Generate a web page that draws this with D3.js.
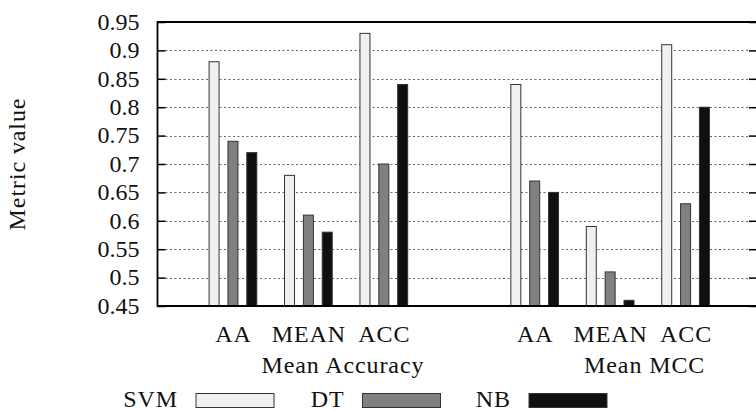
<!DOCTYPE html>
<html>
<head>
<meta charset="utf-8">
<script src="https://cdn.jsdelivr.net/npm/d3@7"></script>
<style>
html,body{margin:0;padding:0;background:#fff;}
text{font-family:"Liberation Serif",serif;fill:#111;}
</style>
</head>
<body>
<svg id="chart" width="756" height="410"></svg>
<script>
// ---- data ----
const categories = ["AA", "MEAN", "ACC"];
const groups = ["Mean Accuracy", "Mean MCC"];
const seriesNames = ["SVM", "DT", "NB"];
const svmValues = [0.88, 0.68, 0.93, 0.84, 0.59, 0.91];
const dtValues  = [0.74, 0.61, 0.70, 0.67, 0.51, 0.63];
const nbValues  = [0.72, 0.58, 0.84, 0.65, 0.46, 0.80];
const yTicks = [0.45, 0.5, 0.55, 0.6, 0.65, 0.7, 0.75, 0.8, 0.85, 0.9, 0.95];
const yTickLabels = ["0.45", "0.5", "0.55", "0.6", "0.65", "0.7", "0.75", "0.8", "0.85", "0.9", "0.95"];
const yLabel = "Metric value";

const seriesValues = [svmValues, dtValues, nbValues];
const seriesColors = ["#f0f0f0", "#808080", "#0f0f0f"];

// ---- layout ----
const svg = d3.select("#chart");
const pLeft = 157.5, pRight = 758, pTop = 22, pBottom = 306;
const fontSize = 24;
const FONT = '"Liberation Serif", serif';
const LS = "0.9px";

const y = d3.scaleLinear().domain([0.45, 0.95]).range([pBottom, pTop]);
// slot index: group*4 + category (one empty slot between groups)
const x = d3.scaleLinear().domain([-1, 6.96]).range([pLeft, pRight]);
const slotW = x(1) - x(0);
const barW = 10;
const offset = s => (seriesNames.indexOf(s) - 1) * 0.25 * slotW;

// gridlines
const gridTicks = yTicks.filter(t => t > 0.45 && t < 0.95);
svg.append("g").selectAll("line").data(gridTicks).join("line")
  .attr("x1", pLeft + 8).attr("x2", 757 - 8)
  .attr("y1", d => Math.round(y(d)) + 0.5).attr("y2", d => Math.round(y(d)) + 0.5)
  .attr("stroke", "#666").attr("stroke-width", 1).attr("stroke-dasharray", "2,2.5");

// bars
const records = [];
groups.forEach((g, gi) => categories.forEach((c, ci) => seriesNames.forEach((s, si) => {
  records.push({slot: gi * 4 + ci, series: s, value: seriesValues[si][gi * 3 + ci], color: seriesColors[si]});
})));
svg.append("g").selectAll("rect").data(records).join("rect")
  .attr("x", d => x(d.slot) + offset(d.series) - barW / 2)
  .attr("width", barW)
  .attr("y", d => y(d.value))
  .attr("height", d => y(0.45) - y(d.value))
  .attr("fill", d => d.color)
  .attr("stroke", "#333").attr("stroke-width", 1);

// y axis (inward ticks)
const yAxis = d3.axisLeft(y).tickValues(yTicks)
  .tickFormat((d, i) => yTickLabels[i]).tickSizeInner(-8).tickSizeOuter(0).tickPadding(18);
const ya = svg.append("g").attr("transform", `translate(${pLeft},0)`).call(yAxis);
ya.attr("font-family", null).attr("font-size", null);
ya.select(".domain").remove();
ya.selectAll(".tick line").attr("stroke", "#000").attr("stroke-width", 1.5);
ya.selectAll(".tick text").attr("dy", "0.3em")
  .style("font-family", FONT).style("font-size", fontSize + "px").attr("fill", "#111");

// right ticks
const yAxisR = d3.axisRight(y).tickValues(yTicks).tickFormat("").tickSizeInner(-8).tickSizeOuter(0);
const yr = svg.append("g").attr("transform", `translate(757,0)`).call(yAxisR);
yr.select(".domain").remove();
yr.selectAll(".tick line").attr("stroke", "#000").attr("stroke-width", 1.5);

// frame
svg.append("path")
  .attr("d", `M${pRight},${pTop}H${pLeft}V${pBottom}H${pRight}`)
  .attr("fill", "none").attr("stroke", "#000").attr("stroke-width", 1.8);

function label(sel) {
  return sel.style("font-family", FONT).style("font-size", fontSize + "px").style("letter-spacing", LS);
}

// x labels
const xl = svg.append("g");
groups.forEach((g, gi) => {
  categories.forEach((c, ci) => {
    label(xl.append("text")).attr("x", x(gi * 4 + ci) + 0.5).attr("y", 342)
      .attr("text-anchor", "middle").text(c);
  });
  label(xl.append("text")).attr("x", x(gi * 4 + 1) + 34.5).attr("y", 372.5)
    .attr("text-anchor", "middle").text(g);
});

// y label
label(svg.append("text"))
  .attr("transform", `translate(25,${(pTop + pBottom) / 2}) rotate(-90)`)
  .attr("text-anchor", "middle").text(yLabel);

// legend
const lg = svg.append("g");
seriesNames.forEach((s, i) => {
  const bx = 196 + 166.5 * i;
  label(lg.append("text")).attr("x", bx - 18).attr("y", 406.5)
    .attr("text-anchor", "end").text(s);
  lg.append("rect").attr("x", bx).attr("y", 393.5).attr("width", 78).attr("height", 14)
    .attr("fill", seriesColors[i]).attr("stroke", "#333").attr("stroke-width", 1);
});
</script>
</body>
</html>
